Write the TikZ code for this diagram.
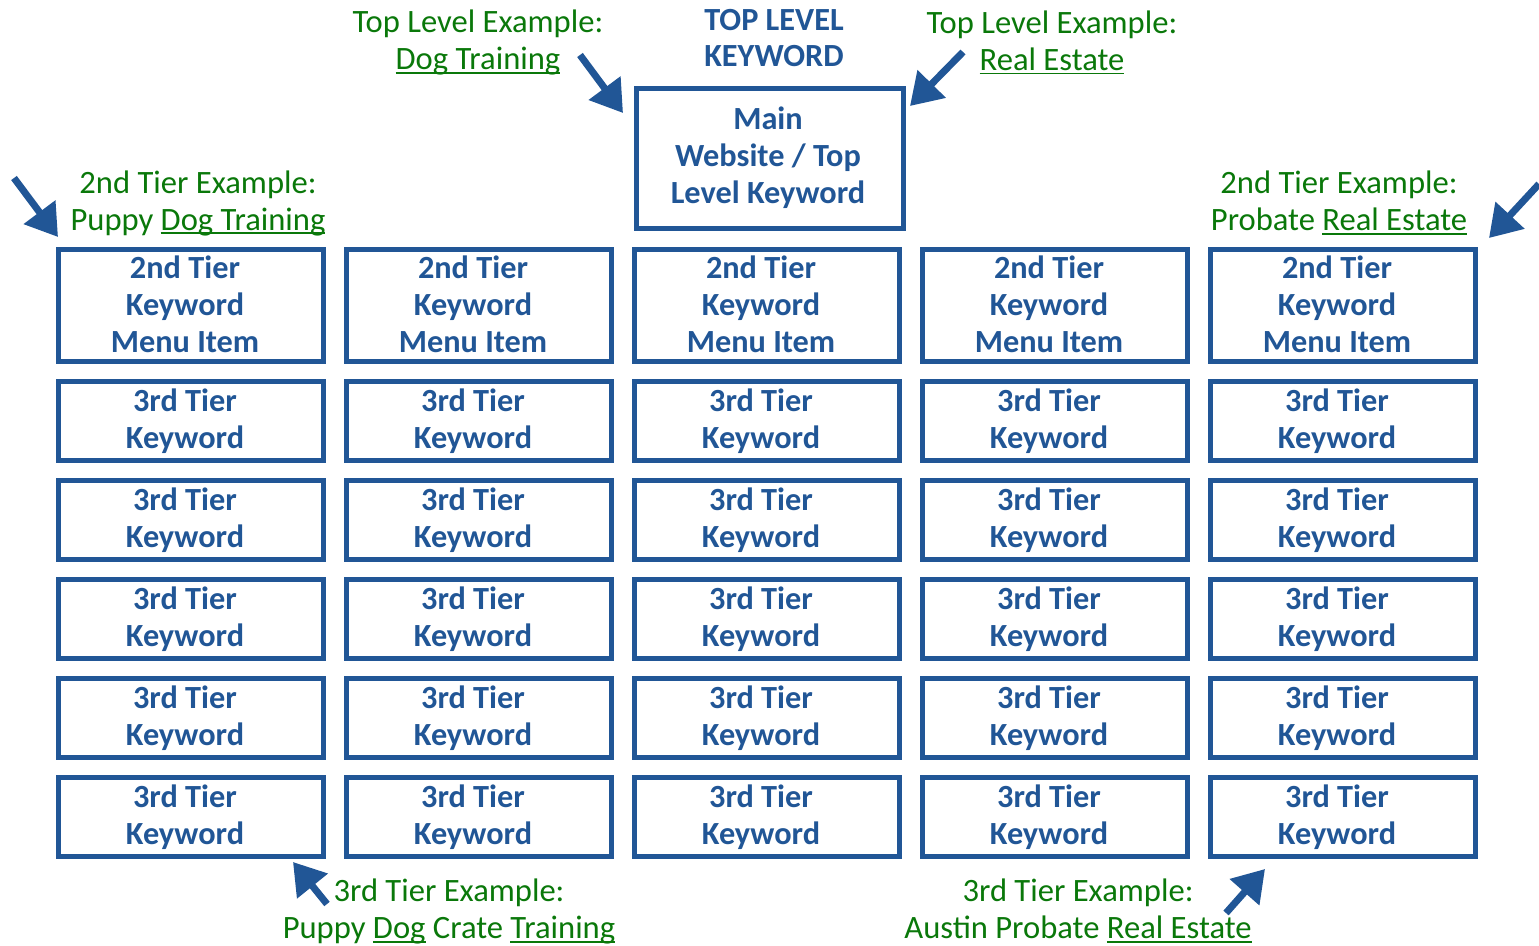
\documentclass[tikz,border=0pt]{standalone}
\usepackage{fontspec}
\setmainfont{Carlito}
\usetikzlibrary{arrows.meta}
\definecolor{kwblue}{RGB}{33,86,150}
\definecolor{kwgreen}{RGB}{10,120,10}
% underline at a fixed depth below the baseline
\newcommand{\kwul}[1]{\leavevmode\setbox0\hbox{#1}\rlap{\rule[-4pt]{\wd0}{1.6pt}}\box0\relax}
\tikzset{
  kwbox/.style={draw=kwblue, line width=5pt, minimum width=265pt, inner sep=0pt},
  tiertwo/.style={kwbox, minimum height=112pt},
  tierthree/.style={kwbox, minimum height=79pt},
  boxtext/.style={text=kwblue, font=\fontsize{32.3}{37}\selectfont\bfseries, align=center, inner sep=0pt},
  example/.style={text=kwgreen, font=\fontsize{32.6}{37}\selectfont, align=center, inner sep=0pt},
  heading/.style={text=kwblue, font=\fontsize{32.3}{36}\selectfont\bfseries, align=center, inner sep=0pt},
  pointer/.style={draw=kwblue, line width=7pt, -{Triangle[length=31pt,width=38pt]}}
}
\begin{document}
\begin{tikzpicture}[x=1pt,y=-1pt]
\useasboundingbox (0,0) rectangle (1539,945);

% main website box
\node[kwbox, minimum width=267pt, minimum height=140pt] (top) at (770,158) {};
\node[boxtext] (toptext) at (768,157.5) {Main\\Website / Top\\Level Keyword};
\node[heading] (heading) at (774,38) {TOP LEVEL\\KEYWORD};

% second tier and third tier columns
\foreach \i/\cx in {1/191,2/479,3/767,4/1055,5/1343}{
  \node[tiertwo] (t2-\i) at (\cx,305) {};
  \node[boxtext] at ([xshift=-6pt,yshift=1pt]t2-\i.center) {2nd Tier\\Keyword\\Menu Item};
  \foreach \j/\cy in {1/420.5,2/519.5,3/618.5,4/717.5,5/816.5}{
    \node[tierthree] (t3-\i-\j) at (\cx,\cy) {};
    \node[boxtext] at ([xshift=-6pt,yshift=-1pt]t3-\i-\j.center) {3rd Tier\\Keyword};
  }
}

% example labels
\node[example] (exa) at (478,42.5) {Top Level Example:\\\kwul{Dog Training}};
\node[example] (exb) at (1052,42.5) {Top Level Example:\\\kwul{Real Estate}};
\node[example] (exc) at (198,203) {2nd Tier Example:\\Puppy \kwul{Dog Training}};
\node[example] (exd) at (1339,203) {2nd Tier Example:\\Probate \kwul{Real Estate}};
\node[example] (exe) at (449,911.5) {3rd Tier Example:\\Puppy \kwul{Dog} Crate \kwul{Training}};
\node[example] (exf) at (1078,911) {3rd Tier Example:\\Austin Probate \kwul{Real Estate}};

% pointer arrows
\coordinate (pa) at (580,55);   \coordinate (pa-tip) at (623,113);
\coordinate (pb) at (963,52);   \coordinate (pb-tip) at (910,106);
\coordinate (pc) at (14,178);   \coordinate (pc-tip) at (58,237);
\coordinate (pd) at (1539,184); \coordinate (pd-tip) at (1489,238);
\coordinate (pe) at (327,904);  \coordinate (pe-tip) at (293,862);
\coordinate (pf) at (1226,913); \coordinate (pf-tip) at (1265,869);
\draw[pointer] (pa) -- (pa-tip);
\draw[pointer] (pb) -- (pb-tip);
\draw[pointer] (pc) -- (pc-tip);
\draw[pointer] (pd) -- (pd-tip);
\draw[pointer] (pe) -- (pe-tip);
\draw[pointer] (pf) -- (pf-tip);
\end{tikzpicture}
\end{document}
